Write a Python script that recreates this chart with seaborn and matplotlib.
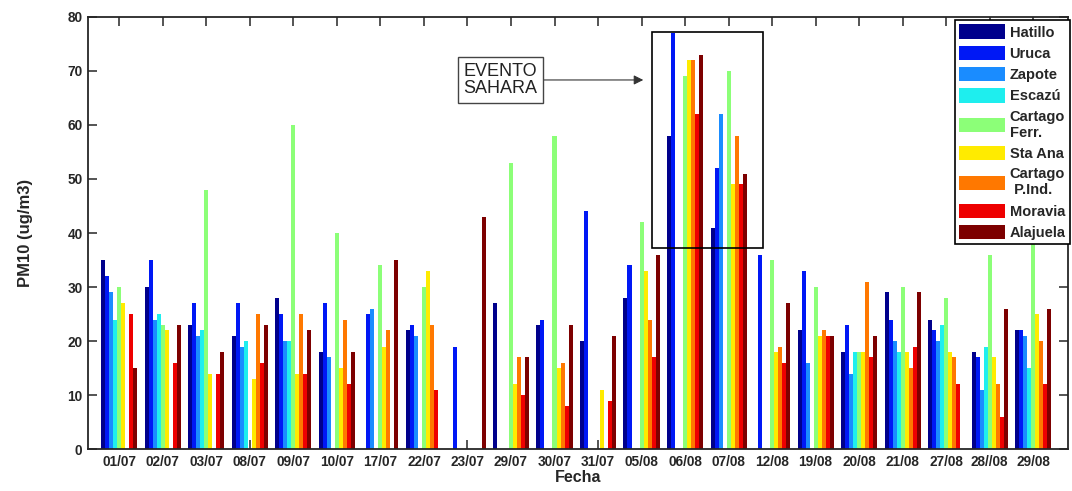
#!/usr/bin/env python3
"""
PM10 por estacion - evento Sahara
"""

import numpy as np
import pandas as pd
import matplotlib
matplotlib.use("Agg")
import matplotlib.pyplot as plt
from matplotlib.patches import Rectangle
import seaborn as sns

nan = np.nan

dates = ["01/07", "02/07", "03/07", "08/07", "09/07", "10/07", "17/07", "22/07",
         "23/07", "29/07", "30/07", "31/07", "05/08", "06/08", "07/08", "12/08",
         "19/08", "20/08", "21/08", "27/08", "28//08", "29/08"]
stations = ["Hatillo", "Uruca", "Zapote", "Escazú", "Cartago\nFerr.", "Sta Ana",
            "Cartago\n P.Ind.", "Moravia", "Alajuela"]
colors = ["#00008C", "#0018F5", "#1A8CFF", "#1EEEEE", "#8CFF78",
          "#FFEB00", "#FF7800", "#EE0000", "#7D0000"]

hatillo = [35, 30, 23, 21, 28, 18, nan, 22, nan, 27, 23, 20, 28, 58, 41, nan, 22, 18, 29, 24, 18, 22]
uruca = [32, 35, 27, 27, 25, 27, 25, 23, 19, nan, 24, 44, 34, 77, 52, 36, 33, 23, 24, 22, 17, 22]
zapote = [29, 24, 21, 19, 20, 17, 26, 21, nan, nan, nan, nan, nan, nan, 62, nan, 16, 14, 20, 20, 11, 21]
escazu = [24, 25, 22, 20, 20, nan, nan, nan, nan, nan, nan, nan, nan, nan, nan, nan, nan, 18, 18, 23, 19, 15]
cartago_ferr = [30, 23, 48, nan, 60, 40, 34, 30, nan, 53, 58, nan, 42, 69, 70, 35, 30, 18, 30, 28, 36, 40]
sta_ana = [27, 22, 14, 13, 14, 15, 19, 33, nan, 12, 15, 11, 33, 72, 49, 18, 21, 18, 18, 18, 17, 25]
cartago_pind = [nan, nan, nan, 25, 25, 24, 22, 23, nan, 17, 16, nan, 24, 72, 58, 19, 22, 31, 15, 17, 12, 20]
moravia = [25, 16, 14, 16, 14, 12, nan, 11, nan, 10, 8, 9, 17, 62, 49, 16, 21, 17, 19, 12, 6, 12]
alajuela = [15, 23, 18, 23, 22, 18, 35, nan, 43, 17, 23, 21, 36, 73, 51, 27, 21, 21, 29, nan, 26, 26]

series = [hatillo, uruca, zapote, escazu, cartago_ferr, sta_ana, cartago_pind, moravia, alajuela]

df = pd.DataFrame({
    "Fecha": np.tile(dates, len(stations)),
    "Estacion": np.repeat(stations, len(dates)),
    "PM10": np.concatenate([np.asarray(s, dtype=float) for s in series]),
})

sns.set_style("ticks")
plt.rcParams["font.family"] = ["Liberation Sans", "DejaVu Sans"]

fig = plt.figure(figsize=(10.72, 4.91), dpi=100)
ax = fig.add_axes([88 / 1072, 1 - 449.3 / 491, (1068 - 88) / 1072, (449.3 - 16.7) / 491])

sns.barplot(data=df, x="Fecha", y="PM10", hue="Estacion", order=dates,
            hue_order=stations, palette=colors, errorbar=None, width=0.83,
            saturation=1, linewidth=0, ax=ax)

ax.set_xlim(-0.72, 21.8)
ax.set_ylim(0, 80)
ax.set_yticks(range(0, 81, 10))
ax.tick_params(direction="in", top=True, right=True, length=6.5, width=1.1,
               labelsize=9.8, pad=4)
for lab in ax.get_xticklabels() + ax.get_yticklabels():
    lab.set_fontweight("bold")
for sp in ax.spines.values():
    sp.set_visible(True)
    sp.set_linewidth(1.3)

ax.set_xlabel("Fecha", fontsize=11.5, fontweight="bold", labelpad=1)
ax.set_ylabel("PM10 (ug/m3)", fontsize=12, fontweight="bold", labelpad=25)

# recuadro del evento
ax.add_patch(Rectangle((12.23, 37.2), 2.57, 40.0, fill=False, lw=1.2,
                       ec="black", zorder=6))
ax.annotate("EVENTO\nSAHARA", xy=(12.04, 68.3), xytext=(8.75, 68.3),
            ha="center", va="center", fontsize=13, color="#222222",
            linespacing=1.05,
            bbox=dict(boxstyle="square,pad=0.3", fc="white", ec="#444444", lw=1),
            arrowprops=dict(arrowstyle="-|>", color="#333333", lw=0.8,
                            mutation_scale=14, shrinkA=0, shrinkB=0),
            zorder=7)

handles, labels = ax.get_legend_handles_labels()
leg = ax.legend(handles, labels, loc="upper right",
                bbox_to_anchor=(1070 / 1072, 1 - 20 / 491),
                bbox_transform=fig.transFigure, frameon=True, fancybox=False,
                framealpha=1, edgecolor="black",
                prop=dict(weight="bold", size=10.5), handlelength=3.1,
                handleheight=1.15, handletextpad=0.35, labelspacing=0.42,
                borderpad=0.3, borderaxespad=0)
leg.get_frame().set_linewidth(1.2)
leg.set_zorder(10)

fig.savefig("out.png", dpi=100)
plt.close(fig)
